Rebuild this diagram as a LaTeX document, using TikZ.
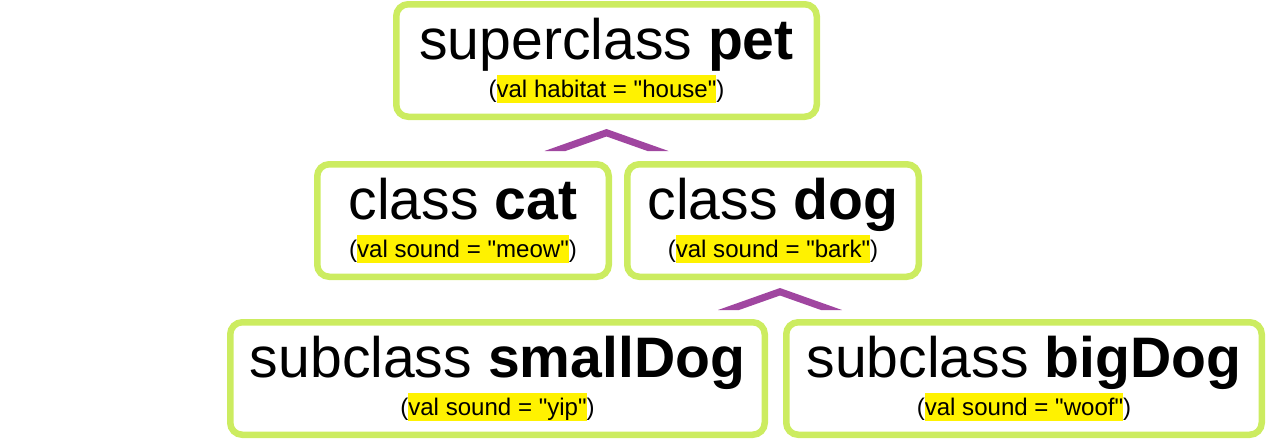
\documentclass[tikz,border=0pt]{standalone}
\usepackage{fontspec}
\setmainfont{Liberation Sans}[Ligatures=TeXOff]
\usepackage{xcolor}
\usetikzlibrary{positioning, calc}

\definecolor{limeedge}{RGB}{204,236,96}
\definecolor{inhpurple}{RGB}{160,70,160}

\newcommand{\bigtxt}{\fontsize{32.5}{21.6}\selectfont}
\newcommand{\smalltxt}{\fontsize{13.7}{21.6}\selectfont}
\newcommand{\hilite}[1]{{\setlength{\fboxsep}{0pt}\colorbox{yellow}{\rule[-0.1cm]{0pt}{0.56cm}#1}}}

\begin{document}
\begin{tikzpicture}[
    box/.style={rectangle, draw=limeedge, line width=0.13cm, rounded corners=0.24cm, minimum height=2.25cm, align=center, inner sep=0pt, font=\bigtxt},
    chev/.style={fill=inhpurple}
]
\useasboundingbox (0,0) rectangle (25.36,-8.82);

% superclass
\node[box, minimum width=8.41cm] (pet) at (12.13,-1.21) {superclass \textbf{pet}\\ \smalltxt(\hilite{val habitat = "house"})};

% classes
\node[box, minimum width=5.83cm, below left=0.82cm and -0.11cm of pet.south] (cat) {class \textbf{cat}\\ \smalltxt(\hilite{val sound = "meow"})};
\node[box, minimum width=5.83cm, right=0.24cm of cat] (dog) {class \textbf{dog}\\ \smalltxt(\hilite{val sound = "bark"})};

% subclasses
\node[box, minimum width=9.51cm, below right=0.78cm and 0.2cm of dog.south] (big) {subclass \textbf{bigDog}\\ \smalltxt(\hilite{val sound = "woof"})};
\node[box, minimum width=10.69cm, left=0.3cm of big] (small) {subclass \textbf{smallDog}\\ \smalltxt(\hilite{val sound = "yip"})};

% inheritance marks
\coordinate (up1) at ($(pet.south)+(0,-0.18)$);
\coordinate (up2) at ($(dog.south)+(0.14,-0.16)$);
\foreach \tip in {up1, up2}
  \fill[chev] (\tip) -- ++(1.24,-0.44) -- ++(-0.42,0) -- ++(-0.82,0.29) -- ++(-0.82,-0.29) -- ++(-0.42,0) -- cycle;

\end{tikzpicture}
\end{document}
